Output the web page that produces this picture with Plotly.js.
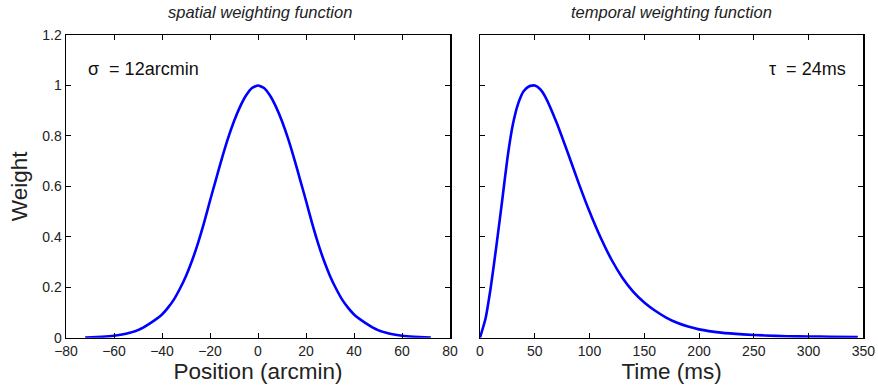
<!DOCTYPE html>
<html>
<head>
<meta charset="utf-8">
<script src="https://cdn.plot.ly/plotly-3.0.1.min.js"></script>
<style>html,body{margin:0;padding:0;background:#fff;}#chart{width:878px;height:391px;}</style>
</head>
<body>
<div id="chart"></div>
<script>
// Spatial weighting function (position in arcmin vs weight)
const positionArcmin = [-72,-65,-60,-55,-50,-45,-40,-37.5,-35,-32.5,-30,-27.5,-25,-22.5,-20,-17.5,-15,-12.5,-10,-7.5,-5,-2.5,0,
                        2.5,5,7.5,10,12.5,15,17.5,20,22.5,25,27.5,30,32.5,35,37.5,40,45,50,55,60,65,72];
const spatialWeight  = [0.001,0.004,0.008,0.016,0.03,0.057,0.092,0.119,0.152,0.195,0.245,0.305,0.375,0.455,0.543,0.628,0.712,0.79,0.858,0.915,0.96,0.99,1.0,
                        0.99,0.96,0.915,0.858,0.79,0.712,0.628,0.543,0.455,0.375,0.305,0.245,0.195,0.152,0.119,0.092,0.057,0.03,0.016,0.008,0.004,0.001];

// Temporal weighting function (time in ms vs weight)
const timeMs         = [0,5,10,15,20,25,30,35,40,45,50,55,60,70,80,90,100,110,120,130,140,150,160,170,180,190,200,220,240,260,280,300,320,345];
const temporalWeight = [0,0.075,0.205,0.365,0.535,0.71,0.845,0.93,0.978,0.997,1.0,0.985,0.952,0.852,0.735,0.614,0.5,0.398,0.31,0.238,0.182,0.14,0.107,0.08,0.059,0.044,0.033,0.02,0.013,0.009,0.006,0.005,0.004,0.003];

const xTicksLeft  = [-80,-60,-40,-20,0,20,40,60,80];
const xTicksRight = [0,50,100,150,200,250,300,350];
const yTicks      = [0,0.2,0.4,0.6,0.8,1,1.2];
const yTickText   = ['0','0.2','0.4','0.6','0.8','1','1.2'];

const FONT = '"Liberation Sans", Arial, Helvetica, sans-serif';
const tickFont = {family: FONT, size: 14, color: '#222'};
const titleFont = {family: FONT, size: 22.5, color: '#222'};

const lineStyle = {color: '#0000ff', width: 2.6, shape: 'spline', smoothing: 0.5};

const traces = [
  {x: positionArcmin, y: spatialWeight, xaxis: 'x', yaxis: 'y', mode: 'lines', line: lineStyle, hoverinfo: 'skip'},
  {x: timeMs, y: temporalWeight, xaxis: 'x2', yaxis: 'y2', mode: 'lines', line: lineStyle, hoverinfo: 'skip'}
];

const axisCommon = {
  showline: true, linecolor: '#000', linewidth: 1.5, mirror: 'ticks',
  ticks: 'inside', ticklen: 5, tickwidth: 1, tickcolor: '#000',
  showgrid: false, zeroline: false, tickfont: tickFont, fixedrange: true
};

const yDom = [(391-337.7)/391, (391-35)/391];

const layout = {
  width: 878, height: 391,
  margin: {l: 0, r: 0, t: 0, b: 0},
  paper_bgcolor: '#fff', plot_bgcolor: '#fff',
  showlegend: false,
  xaxis: Object.assign({}, axisCommon, {
    domain: [66/878, 450/878], range: [-80, 80], tickmode: 'array', tickvals: xTicksLeft,
    anchor: 'y',
    title: {text: 'Position (arcmin)', font: titleFont, standoff: 5}
  }),
  yaxis: Object.assign({}, axisCommon, {
    domain: yDom, range: [0, 1.2], tickmode: 'array', tickvals: yTicks, ticktext: yTickText,
    anchor: 'x',
    title: {text: 'Weight', font: titleFont, standoff: 8}
  }),
  xaxis2: Object.assign({}, axisCommon, {
    domain: [480/878, 863.3/878], range: [0, 350], tickmode: 'array', tickvals: xTicksRight,
    anchor: 'y2',
    title: {text: 'Time (ms)', font: titleFont, standoff: 5}
  }),
  yaxis2: Object.assign({}, axisCommon, {
    domain: yDom, range: [0, 1.2], tickmode: 'array', tickvals: yTicks,
    showticklabels: false, anchor: 'x2'
  }),
  annotations: [
    {text: '<i>spatial weighting function</i>', xref: 'paper', yref: 'paper',
     x: 260/878, y: 1 - 12/391, xanchor: 'center', yanchor: 'middle', showarrow: false,
     font: {family: FONT, size: 16.5, color: '#222'}},
    {text: '<i>temporal weighting function</i>', xref: 'paper', yref: 'paper',
     x: 671.6/878, y: 1 - 12/391, xanchor: 'center', yanchor: 'middle', showarrow: false,
     font: {family: FONT, size: 16.5, color: '#222'}},
    {text: 'σ  = 12arcmin', xref: 'x', yref: 'y', x: -71.5, y: 1.065,
     xanchor: 'left', yanchor: 'middle', showarrow: false,
     font: {family: FONT, size: 18, color: '#111'}},
    {text: 'τ  = 24ms', xref: 'x2', yref: 'y2', x: 336, y: 1.065,
     xanchor: 'right', yanchor: 'middle', showarrow: false,
     font: {family: FONT, size: 18, color: '#111'}}
  ]
};

Plotly.newPlot('chart', traces, layout, {staticPlot: true, displayModeBar: false});
</script>
</body>
</html>
